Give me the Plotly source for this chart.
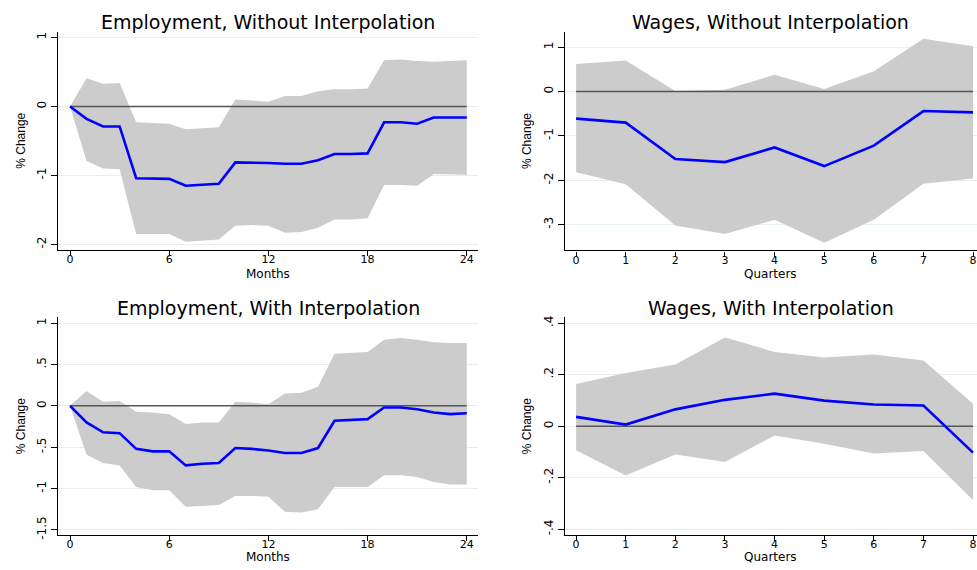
import plotly.graph_objects as go

months = list(range(25))
quarters = list(range(9))

# Employment, Without Interpolation
emp_no_irf = [0, -0.18, -0.29, -0.29, -1.04, -1.05, -1.05, -1.15, -1.13, -1.12, -0.81, -0.81, -0.82,
              -0.83, -0.83, -0.78, -0.69, -0.69, -0.68, -0.23, -0.23, -0.25, -0.16, -0.16, -0.16]
emp_no_hi = [0, 0.41, 0.33, 0.34, -0.23, -0.24, -0.25, -0.33, -0.32, -0.30, 0.10, 0.09, 0.07,
             0.15, 0.15, 0.22, 0.25, 0.25, 0.26, 0.67, 0.68, 0.66, 0.65, 0.66, 0.67]
emp_no_lo = [0, -0.79, -0.90, -0.91, -1.85, -1.85, -1.85, -1.96, -1.95, -1.93, -1.73, -1.72, -1.73,
             -1.83, -1.82, -1.76, -1.64, -1.64, -1.62, -1.14, -1.14, -1.15, -0.98, -0.99, -0.99]

# Wages, Without Interpolation
wag_no_irf = [-0.61, -0.70, -1.52, -1.59, -1.26, -1.68, -1.22, -0.44, -0.47]
wag_no_hi = [0.62, 0.70, 0.01, 0.04, 0.38, 0.06, 0.46, 1.19, 1.02]
wag_no_lo = [-1.82, -2.09, -3.02, -3.21, -2.89, -3.41, -2.89, -2.08, -1.96]

# Employment, With Interpolation
emp_in_irf = [0, -0.20, -0.32, -0.33, -0.52, -0.55, -0.55, -0.72, -0.70, -0.69, -0.51, -0.52, -0.54,
              -0.57, -0.57, -0.51, -0.18, -0.17, -0.16, -0.02, -0.02, -0.04, -0.08, -0.10, -0.09]
emp_in_hi = [0, 0.18, 0.05, 0.06, -0.07, -0.08, -0.10, -0.22, -0.20, -0.20, 0.05, 0.04, 0.02,
             0.15, 0.16, 0.23, 0.63, 0.64, 0.65, 0.80, 0.82, 0.80, 0.77, 0.76, 0.76]
emp_in_lo = [0, -0.59, -0.69, -0.72, -0.98, -1.02, -1.02, -1.22, -1.21, -1.20, -1.09, -1.09, -1.10,
             -1.28, -1.29, -1.25, -0.98, -0.98, -0.98, -0.84, -0.84, -0.86, -0.92, -0.95, -0.95]

# Wages, With Interpolation
wag_in_irf = [0.036, 0.006, 0.065, 0.102, 0.126, 0.099, 0.084, 0.080, -0.103]
wag_in_hi = [0.163, 0.206, 0.239, 0.344, 0.288, 0.266, 0.278, 0.255, 0.087]
wag_in_lo = [-0.094, -0.192, -0.110, -0.139, -0.036, -0.068, -0.106, -0.097, -0.288]

titles = ["Employment, Without Interpolation", "Wages, Without Interpolation",
          "Employment, With Interpolation", "Wages, With Interpolation"]
month_ticks = [0, 6, 12, 18, 24]
quarter_ticks = list(range(9))
emp_no_yticks = [1, 0, -1, -2]
emp_no_ytext = ["1", "0", "-1", "-2"]
wag_no_yticks = [1, 0, -1, -2, -3]
wag_no_ytext = ["1", "0", "-1", "-2", "-3"]
emp_in_yticks = [1, 0.5, 0, -0.5, -1, -1.5]
emp_in_ytext = ["1", ".5", "0", "-.5", "-1", "-1.5"]
wag_in_yticks = [0.4, 0.2, 0, -0.2, -0.4]
wag_in_ytext = [".4", ".2", "0", "-.2", "-.4"]

W, H = 977, 570
BAND = "#cccccc"
BLUE = "#0000ff"

panels = [
    dict(x=months, irf=emp_no_irf, hi=emp_no_hi, lo=emp_no_lo, xt=month_ticks, xtitle="Months",
         yv=emp_no_yticks, yt=emp_no_ytext, xr=[-0.71, 24.68], yr=[-2.08, 1.085],
         xd=[58.3, 478], yd=[30, 251], tgap=24),
    dict(x=quarters, irf=wag_no_irf, hi=wag_no_hi, lo=wag_no_lo, xt=quarter_ticks, xtitle="Quarters",
         yv=wag_no_yticks, yt=wag_no_ytext, xr=[-0.23, 8.08], yr=[-3.58, 1.35],
         xd=[564.7, 977], yd=[30, 251.5], tgap=24),
    dict(x=months, irf=emp_in_irf, hi=emp_in_hi, lo=emp_in_lo, xt=month_ticks, xtitle="Months",
         yv=emp_in_yticks, yt=emp_in_ytext, xr=[-0.71, 24.68], yr=[-1.56, 1.07],
         xd=[58.3, 478], yd=[319.3, 539.5], tgap=22),
    dict(x=quarters, irf=wag_in_irf, hi=wag_in_hi, lo=wag_in_lo, xt=quarter_ticks, xtitle="Quarters",
         yv=wag_in_yticks, yt=wag_in_ytext, xr=[-0.23, 8.08], yr=[-0.422, 0.422],
         xd=[564.7, 977], yd=[319.3, 539.5], tgap=22),
]

fig = go.Figure()
layout = dict(width=W, height=H, margin=dict(l=0, r=0, t=0, b=0),
              paper_bgcolor="white", plot_bgcolor="white", showlegend=False,
              annotations=[])

XTICKFONT = dict(family="DejaVu Sans", size=11, color="black")
YTICKFONT = dict(family="DejaVu Sans", size=12, color="black")
for i, p in enumerate(panels):
    n = "" if i == 0 else str(i + 1)
    xa, ya = "x" + n, "y" + n
    fig.add_trace(go.Scatter(x=p["x"], y=p["lo"], mode="lines", line=dict(width=0, color=BAND),
                             xaxis=xa, yaxis=ya, hoverinfo="skip"))
    fig.add_trace(go.Scatter(x=p["x"], y=p["hi"], mode="lines", line=dict(width=0, color=BAND),
                             fill="tonexty", fillcolor=BAND, xaxis=xa, yaxis=ya, hoverinfo="skip"))
    fig.add_trace(go.Scatter(x=[p["x"][0], p["x"][-1]], y=[0, 0], mode="lines",
                             line=dict(width=1.5, color="#555555"), xaxis=xa, yaxis=ya))
    fig.add_trace(go.Scatter(x=p["x"], y=p["irf"], mode="lines", line=dict(width=2.6, color=BLUE),
                             xaxis=xa, yaxis=ya))
    xdom = [p["xd"][0] / W, p["xd"][1] / W]
    ydom = [1 - p["yd"][1] / H, 1 - p["yd"][0] / H]
    layout["xaxis" + n] = dict(domain=xdom, range=p["xr"], tickvals=p["xt"], anchor=ya,
                               ticks="outside", ticklen=5, tickwidth=1.2, tickcolor="black",
                               showline=True, linecolor="black", linewidth=1.3,
                               showgrid=False, zeroline=False, tickfont=XTICKFONT,
                               ticklabeloverflow="allow", ticklabelstandoff=-6)
    layout["yaxis" + n] = dict(domain=ydom, range=p["yr"], tickvals=p["yv"], ticktext=p["yt"],
                               anchor=xa, tickangle=-90,
                               ticks="outside", ticklen=6, tickwidth=1.2, tickcolor="black",
                               showline=True, linecolor="black", linewidth=1.3,
                               showgrid=True, gridcolor="#e6eff0", gridwidth=1,
                               zeroline=False, tickfont=YTICKFONT,
                               title=dict(text="% Change", standoff=7,
                                          font=dict(family="Liberation Sans Narrow, Liberation Sans",
                                                    size=12, color="black")))
    layout["annotations"].append(dict(
        text=titles[i], x=(xdom[0] + xdom[1]) / 2, y=1 - (p["yd"][0] - 10) / H,
        xref="paper", yref="paper", xanchor="center", yanchor="middle", showarrow=False,
        font=dict(family="DejaVu Sans", size=19, color="black")))
    # x-axis title placed just under the tick labels
    layout["annotations"].append(dict(
        text=p["xtitle"], x=(xdom[0] + xdom[1]) / 2, y=1 - (p["yd"][1] + p["tgap"]) / H,
        xref="paper", yref="paper", xanchor="center", yanchor="middle", showarrow=False,
        font=dict(family="DejaVu Sans", size=12, color="black")))

fig.update_layout(**layout)
fig.write_html("out.html", config={"displayModeBar": False},
               post_script="document.body.style.margin='0px';document.body.style.overflow='hidden';")
